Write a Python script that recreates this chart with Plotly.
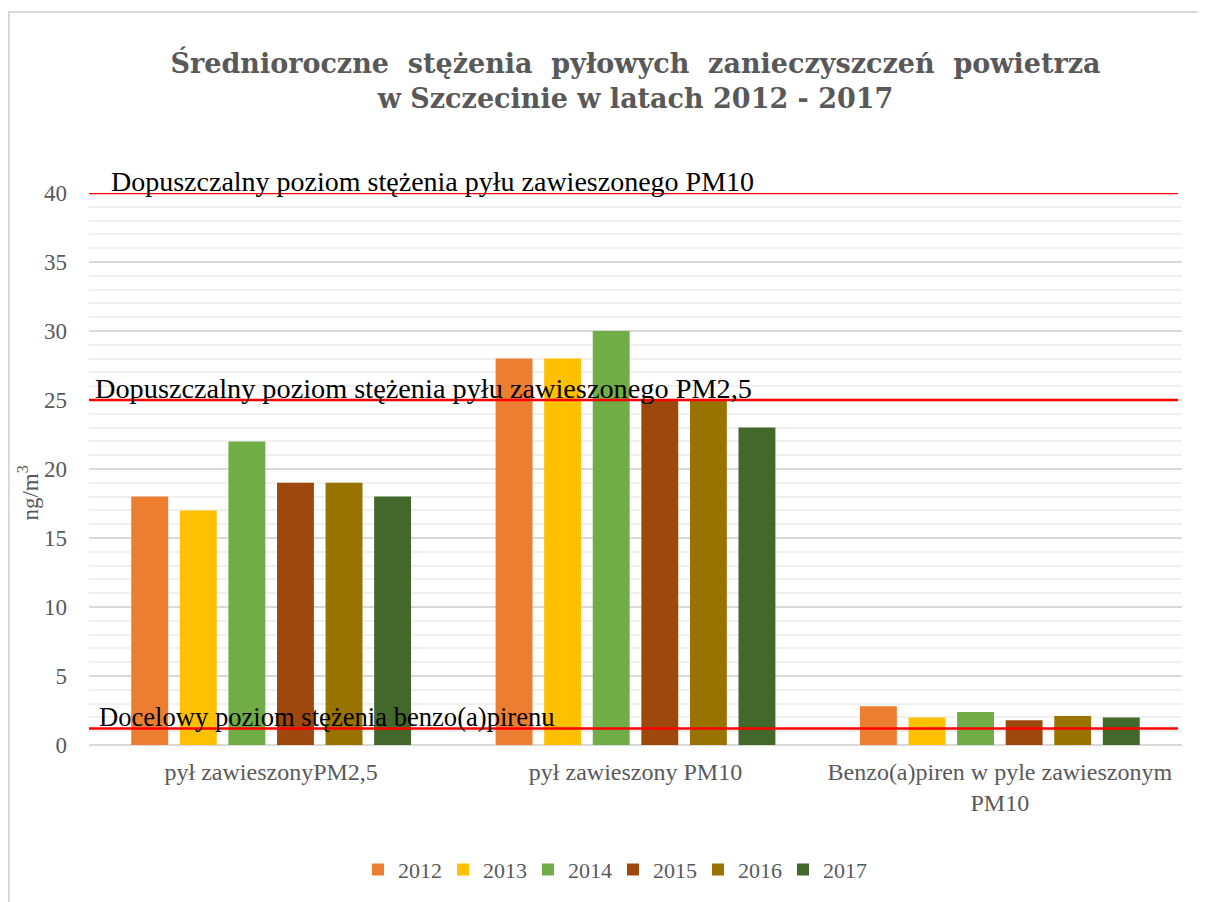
import plotly.graph_objects as go

categories = ["pył zawieszonyPM2,5", "pył zawieszony PM10", "Benzo(a)piren w pyle zawieszonym<br>PM10"]
years = ["2012", "2013", "2014", "2015", "2016", "2017"]
values = {
    "2012": [18, 28, 2.8],
    "2013": [17, 28, 2.0],
    "2014": [22, 30, 2.4],
    "2015": [19, 25, 1.8],
    "2016": [19, 25, 2.1],
    "2017": [18, 23, 2.0],
}
colors = ["#ED7D31", "#FFC000", "#70AD47", "#9E480E", "#997300", "#43682B"]
limit_values = [40, 25, 1.2]
limit_labels = [
    "Dopuszczalny poziom stężenia pyłu zawieszonego PM10",
    "Dopuszczalny poziom stężenia pyłu zawieszonego PM2,5",
    "Docelowy poziom stężenia benzo(a)pirenu",
]
limit_label_x = [0.018, 0.004, 0.007]
limit_label_size = [28, 28.3, 26.6]
y_ticks = [0, 5, 10, 15, 20, 25, 30, 35, 40]

SERIF = "Liberation Serif, DejaVu Serif, serif"
TITLE_FONT = "DejaVu Serif, serif"
GRAY = "#595959"
SP = "\u00a0 "

fig = go.Figure()
for y, c in zip(years, colors):
    fig.add_trace(go.Bar(name=y, x=categories, y=values[y], marker=dict(color=c, line=dict(width=0))))

shapes = []
annotations = []
for v, lab, lx, fs in zip(limit_values, limit_labels, limit_label_x, limit_label_size):
    shapes.append(dict(type="line", xref="paper", yref="y", x0=0, x1=0.9963, y0=v, y1=v,
                       line=dict(color="#FF0000", width=2.5), layer="above"))
    annotations.append(dict(text=lab, xref="paper", yref="y", x=lx, y=v, xanchor="left", yanchor="bottom",
                            showarrow=False, yshift=-6, font=dict(family=SERIF, size=fs, color="#000000")))

# chart border
shapes.append(dict(type="rect", xref="paper", yref="paper", x0=-0.0732, x1=1.05, y0=-0.35, y1=1.328,
                   line=dict(color="#D9D9D9", width=2), layer="below"))

annotations.append(dict(text="ng/m<sup>3</sup>", xref="paper", yref="paper", x=-0.055, y=0.457,
                        textangle=-90, showarrow=False, xanchor="center", yanchor="middle",
                        font=dict(family=SERIF, size=23, color=GRAY)))

title_text = (SP.join("Średnioroczne stężenia pyłowych zanieczyszczeń powietrza".split(" "))
              + "<br>" + "w Szczecinie w latach 2012 - 2017")

fig.update_layout(
    width=1198, height=894,
    margin=dict(l=81, r=24, t=185, b=157),
    paper_bgcolor="white", plot_bgcolor="white",
    barmode="group", bargap=0.2, bargroupgap=0.24,
    title=dict(text=title_text,
               xref="paper", x=0.5, xanchor="center", yref="container", y=0.927, yanchor="middle",
               font=dict(family=TITLE_FONT, size=27, color=GRAY, weight="bold")),
    font=dict(family=SERIF, size=22, color=GRAY),
    xaxis=dict(showgrid=False, showline=False, zeroline=False, ticks="", automargin=False,
               tickfont=dict(family=SERIF, size=24, color=GRAY), ticklabelstandoff=10),
    yaxis=dict(range=[0, 40], tickvals=y_ticks, showgrid=True, gridcolor="#D9D9D9", gridwidth=1.5,
               zeroline=True, zerolinecolor="#D9D9D9", zerolinewidth=2, showline=False, ticks="",
               automargin=False,
               tickfont=dict(family=SERIF, size=23, color=GRAY), ticklabelstandoff=21,
               minor=dict(dtick=1, showgrid=True, gridcolor="#F0F0F0", gridwidth=1.5)),
    legend=dict(orientation="h", xanchor="center", x=0.4794, yref="container", yanchor="middle", y=0.036,
                font=dict(family=SERIF, size=22, color=GRAY), itemwidth=30, entrywidth=40,
                traceorder="normal"),
    shapes=shapes,
    annotations=annotations,
)

fig.write_html("out.html")
